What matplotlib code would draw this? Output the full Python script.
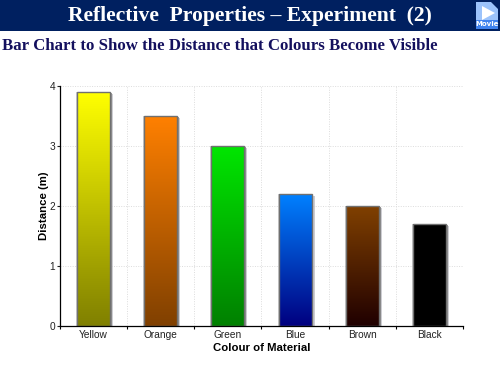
import numpy as np
import matplotlib
matplotlib.use("Agg")
import matplotlib.pyplot as plt
import matplotlib.patheffects as pe
from matplotlib.patches import Rectangle, Polygon

# data
colours = ["Yellow", "Orange", "Green", "Blue", "Brown", "Black"]
distance = [3.9, 3.5, 3.0, 2.2, 2.0, 1.7]
top_cols = ["#ffff00", "#ff8000", "#00e600", "#0080ff", "#804000", "#000000"]
bottom_cols = ["#808000", "#804000", "#008000", "#000080", "#200000", "#000000"]
y_ticks = [0, 1, 2, 3, 4]

W, H = 500, 375
fig = plt.figure(figsize=(5, 3.75), dpi=100, facecolor="white")

# header band
fig.add_artist(Rectangle((0, 1 - 31 / H), 1, 31 / H, transform=fig.transFigure, color="#002060", lw=0))
fig.text(250 / W, 1 - 16.5 / H, "Reflective  Properties – Experiment  (2)", color="white",
         family="Liberation Serif", weight="bold", fontsize=15.6, ha="center", va="center")
fig.text(2 / W, 1 - 46 / H, "Bar Chart to Show the Distance that Colours Become Visible", color="#14105e",
         family="Liberation Serif", weight="bold", fontsize=12.05, ha="left", va="center")

# movie icon
def px(x, y):
    return (x / W, 1 - y / H)

fig.add_artist(Polygon([px(476, 2), px(491, 2), px(498, 9), px(498, 29), px(476, 29)],
                       transform=fig.transFigure, color="#9cc3fb", lw=0))
fig.add_artist(Rectangle(px(476, 29), 22 / W, 9 / H, transform=fig.transFigure, color="#3f82ee", lw=0))
fig.add_artist(Polygon([px(482, 6), px(495, 13), px(482, 20)], transform=fig.transFigure, color="white", lw=0))
fig.text(487 / W, 1 - 24 / H, "Movie", color="white", weight="bold", fontsize=5, ha="center", va="center")

# chart area
ax = fig.add_axes([60 / W, 1 - 326 / H, 403 / W, 240 / H])
x = np.arange(len(colours))

bars = ax.bar(x, distance, width=0.49, facecolor="none", edgecolor="#707070", linewidth=1.0, zorder=4)
for i, b in enumerate(bars):
    # soft shadow behind the bar
    shadow = Rectangle((b.get_x(), 0), b.get_width(), b.get_height(), facecolor="white", edgecolor="none", zorder=2)
    ax.add_patch(shadow)
    shadow.set_path_effects([
        pe.SimplePatchShadow(offset=(2.2, -1.2), shadow_rgbFace="#b8b8c0", alpha=0.7),
        pe.SimplePatchShadow(offset=(1.4, -0.8), shadow_rgbFace="#808080", alpha=0.8),
        pe.SimplePatchShadow(offset=(-0.7, 0), shadow_rgbFace="#b0b0b0", alpha=0.6),
        pe.Normal()])
    # gradient fill, top colour to bottom colour
    t = np.array(matplotlib.colors.to_rgb(top_cols[i]))
    c = np.array(matplotlib.colors.to_rgb(bottom_cols[i]))
    g = np.linspace(0, 1, 128)[:, None, None]
    img = t * (1 - g) + c * g
    ax.imshow(img, extent=[b.get_x(), b.get_x() + b.get_width(), 0, b.get_height()],
              aspect="auto", zorder=3, interpolation="bilinear")
ax.set_xlim(-0.5, 5.5)
ax.set_ylim(0, 4)

# grid
ax.set_yticks(y_ticks)
ax.set_xticks(x)
ax.set_xticklabels(colours)
ax.set_xticks(np.arange(-0.5, 6, 1), minor=True)
ax.grid(True, which="minor", axis="x", color="#dcdcdc", lw=0.7, ls=(0, (1, 1.5)), zorder=0)
ax.grid(True, which="major", axis="y", color="#dcdcdc", lw=0.7, ls=(0, (1, 1.5)), zorder=0)
ax.set_axisbelow(True)
ax.spines["top"].set_visible(False)
ax.spines["right"].set_visible(False)
ax.spines["left"].set_linewidth(0.9)
ax.spines["bottom"].set_linewidth(0.9)
ax.tick_params(axis="x", which="major", length=0, labelsize=7.3, pad=2.8, colors="#222222")
ax.tick_params(axis="x", which="minor", length=2, width=0.8)
ax.tick_params(axis="y", length=2, width=0.8, labelsize=7.3, pad=1.5, colors="#222222")
for s in ["left", "bottom"]:
    ax.spines[s].set_zorder(6)

ax.set_xlabel("Colour of Material", fontsize=8.2, weight="bold", family="Liberation Sans", labelpad=2.5)
ax.set_ylabel("Distance (m)", fontsize=8.2, weight="bold", family="Liberation Sans", labelpad=0.5)
for lab in ax.get_xticklabels() + ax.get_yticklabels():
    lab.set_family("Liberation Sans")

fig.savefig("out.png", dpi=100)
